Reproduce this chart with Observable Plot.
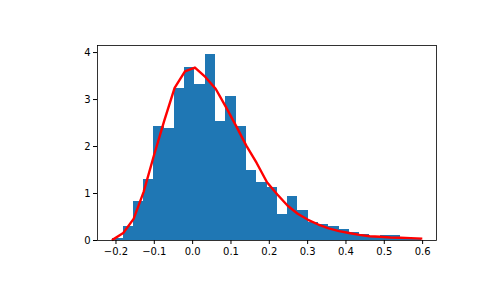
<!DOCTYPE html>
<html>
<head>
<meta charset="utf-8">
<script src="https://cdn.jsdelivr.net/npm/d3@7"></script>
<script src="https://cdn.jsdelivr.net/npm/@observablehq/plot@0.6"></script>
<style>
  html, body { margin: 0; padding: 0; background: #fff; }
  #chart svg { display: block; }
</style>
</head>
<body>
<div id="chart"></div>
<script>
// Bin edges (31) for 30 histogram bins
const binEdges = [-0.208, -0.181, -0.154, -0.128, -0.101, -0.074, -0.047, -0.020, 0.006, 0.033,
  0.060, 0.087, 0.114, 0.140, 0.167, 0.194, 0.221, 0.248, 0.274, 0.301,
  0.328, 0.355, 0.382, 0.408, 0.435, 0.462, 0.489, 0.516, 0.542, 0.569, 0.596];
// Histogram densities (30 bins)
const binHeights = [0.05, 0.30, 0.83, 1.30, 2.43, 2.38, 3.24, 3.69, 3.33, 3.96,
  2.54, 3.06, 2.43, 1.49, 1.23, 1.13, 0.56, 0.94, 0.64, 0.39,
  0.34, 0.30, 0.23, 0.17, 0.13, 0.06, 0.11, 0.11, 0.02, 0.02];
// Fitted density curve evaluated at the bin edges
const curveValues = [0.02, 0.16, 0.46, 1.03, 1.81, 2.55, 3.25, 3.60, 3.68, 3.48,
  3.23, 2.84, 2.43, 2.02, 1.65, 1.24, 0.98, 0.74, 0.57, 0.44,
  0.34, 0.26, 0.20, 0.16, 0.12, 0.09, 0.08, 0.064, 0.057, 0.05, 0.04];
const xTicks = [-0.2, -0.1, 0.0, 0.1, 0.2, 0.3, 0.4, 0.5, 0.6];
const yTicks = [0, 1, 2, 3, 4];

const bars = binHeights.map((h, i) => ({x1: binEdges[i], x2: binEdges[i + 1], y: h}));
const curve = binEdges.map((x, i) => ({x, y: curveValues[i]}));

const chart = Plot.plot({
  width: 485,
  height: 300,
  marginLeft: 97,
  marginRight: 49,
  marginTop: 45,
  marginBottom: 60,
  style: {fontFamily: "DejaVu Sans", fontSize: "10px", color: "black", background: "white"},
  x: {domain: [-0.2482, 0.6362], label: null},
  y: {domain: [0, 4.15], label: null},
  marks: [
    Plot.rectY(bars, {x1: "x1", x2: "x2", y: "y", fill: "#1f77b4", inset: 0, shapeRendering: "crispEdges"}),
    Plot.line(curve, {x: "x", y: "y", stroke: "red", strokeWidth: 2.4, strokeLinecap: "square"}),
    Plot.frame({stroke: "black", strokeWidth: 0.8}),
    Plot.axisX({ticks: xTicks, tickFormat: d3.format(".1f"), tickSize: 4, tickPadding: 3, stroke: "black", fontSize: 10}),
    Plot.axisY({ticks: yTicks, tickFormat: d3.format("d"), tickSize: 4, tickPadding: 3, stroke: "black", fontSize: 10})
  ]
});
document.getElementById("chart").appendChild(chart);
</script>
</body>
</html>
